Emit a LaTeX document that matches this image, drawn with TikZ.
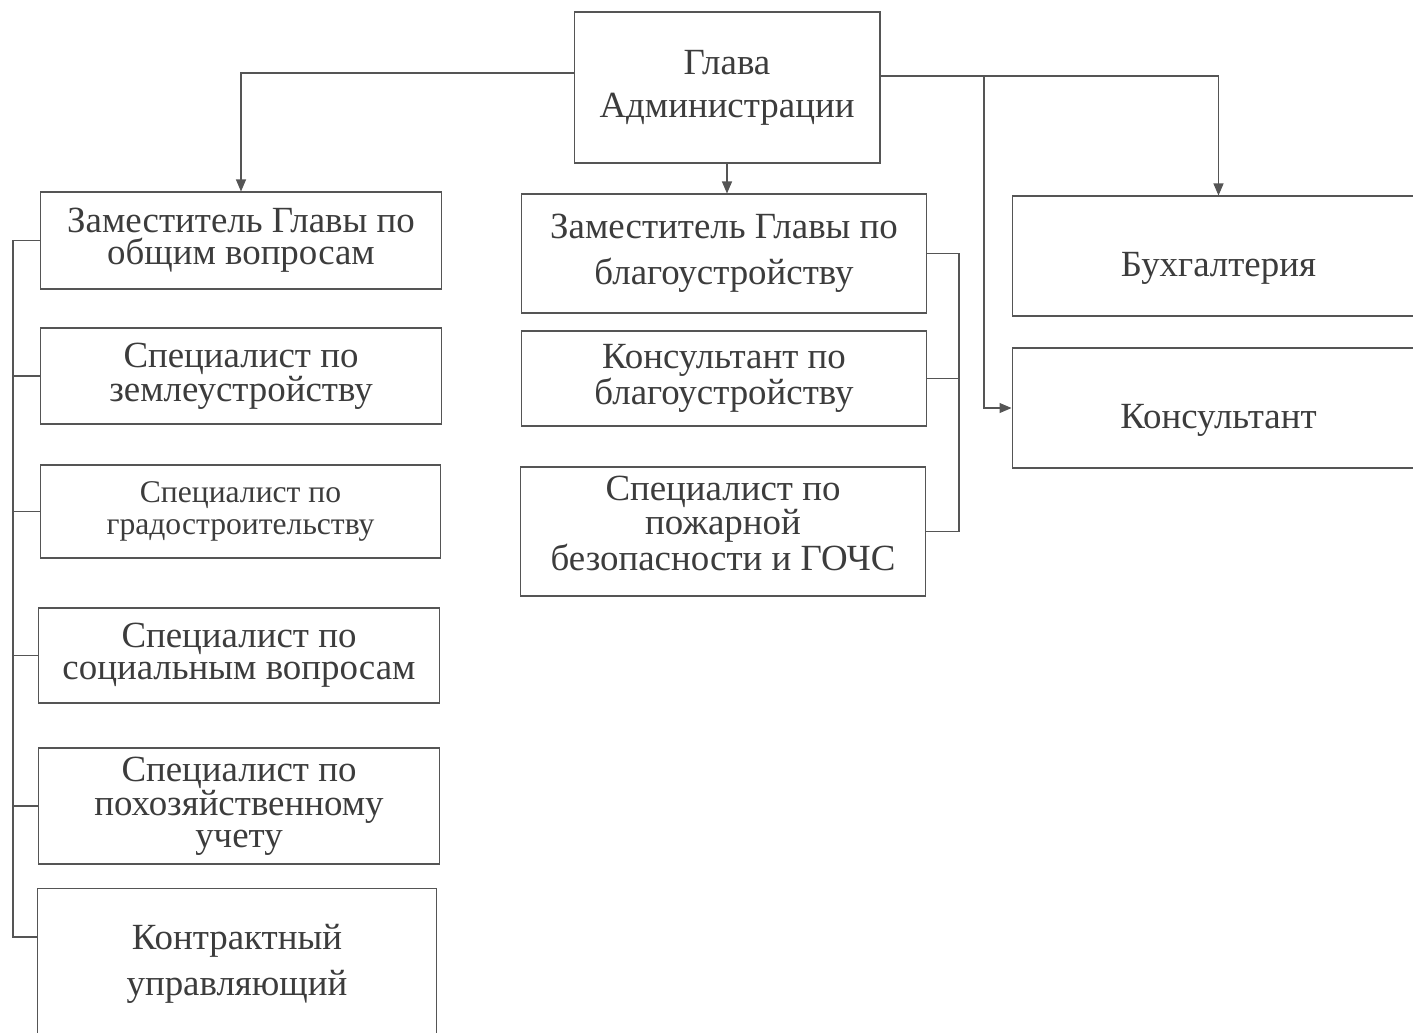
\documentclass[tikz,border=0pt]{standalone}
\usepackage{fontspec}
\setmainfont{Liberation Serif}
\usepackage{xcolor}
\usepackage{tikz}
\usetikzlibrary{arrows.meta,positioning,calc}

\definecolor{ink}{HTML}{3C3C3C}
\definecolor{rule}{HTML}{555555}

\tikzset{
  box/.style={draw=rule, line width=0.6pt, text=ink, align=center, inner sep=0pt,
    font=\fontsize{21}{18.3}\selectfont},
  small/.style={font=\fontsize{18}{18}\selectfont},
  low/.style={text height=28pt},
  link/.style={draw=rule, line width=0.6pt},
  arr/.style={link, -{Triangle[length=0.24cm,width=0.2cm]}}
}

\begin{document}
\begin{tikzpicture}[x=0.02cm,y=-0.02cm]
\useasboundingbox (0,0) rectangle (1413,1032);
% head
\node[box, minimum width=6.12cm, minimum height=3.02cm] (glava) at (727,87.5) {Глава\\[6pt]Администрации};
% left column
\node[box, minimum width=8.04cm, minimum height=1.94cm] (zg) at (241,240.5) {Заместитель Главы по\\общим вопросам};
\node[box, minimum width=8.04cm, minimum height=1.92cm] (sz) at (241,376) {Специалист по\\землеустройству};
\node[box, small, minimum width=8.02cm, minimum height=1.86cm] (sg) at (240.5,511.5) {Специалист по\\градостроительству};
\node[box, minimum width=8.04cm, minimum height=1.90cm] (ss) at (239,655.5) {Специалист по\\социальным вопросам};
\node[box, minimum width=8.04cm, minimum height=2.32cm] (sp) at (239,806) {Специалист по\\похозяйственному\\учету};
\node[box, minimum width=8.00cm, minimum height=3.04cm] (ku) at (237,964) {Контрактный\\[6pt]управляющий};
% middle column
\node[box, minimum width=8.12cm, minimum height=2.38cm] (zb) at (724,253.5) {Заместитель Главы по\\[8pt]благоустройству};
\node[box, minimum width=8.12cm, minimum height=1.90cm] (kb) at (724,378.5) {Консультант по\\благоустройству};
\node[box, text depth=9pt, minimum width=8.12cm, minimum height=2.58cm] (sb) at (723,531.5) {Специалист по\\пожарной\\безопасности и ГОЧС};
% right column
\node[box, low, minimum width=8.26cm, minimum height=2.40cm] (bu) at (1218.5,256) {Бухгалтерия};
\node[box, low, minimum width=8.26cm, minimum height=2.40cm] (ko) at (1218.5,408) {Консультант};

% arrows from the head
\draw[arr] ([yshift=0.29cm]glava.west) -| (zg.north);
\draw[arr] (glava.south) -- (glava.south |- zb.north);
\draw[arr] ([yshift=0.23cm]glava.east) -| (bu.north);
\coordinate (br) at (984,76);
\draw[arr] (br) |- (ko.west);

% left bus
\coordinate (lb) at (13,247);
\coordinate (kstub) at ([yshift=0.54cm]ku.west);
\draw[link] (zg.west) -- (zg.west -| lb) -- (lb |- kstub) -- (kstub);
\foreach \n in {sz,sg,ss,sp}
  \draw[link] (\n.west) -- (\n.west -| lb);

% middle bus
\coordinate (rb) at (959,250);
\draw[link] (zb.east) -| (rb |- sb.east) -- (sb.east);
\draw[link] (kb.east) -- (kb.east -| rb);
\end{tikzpicture}
\end{document}
